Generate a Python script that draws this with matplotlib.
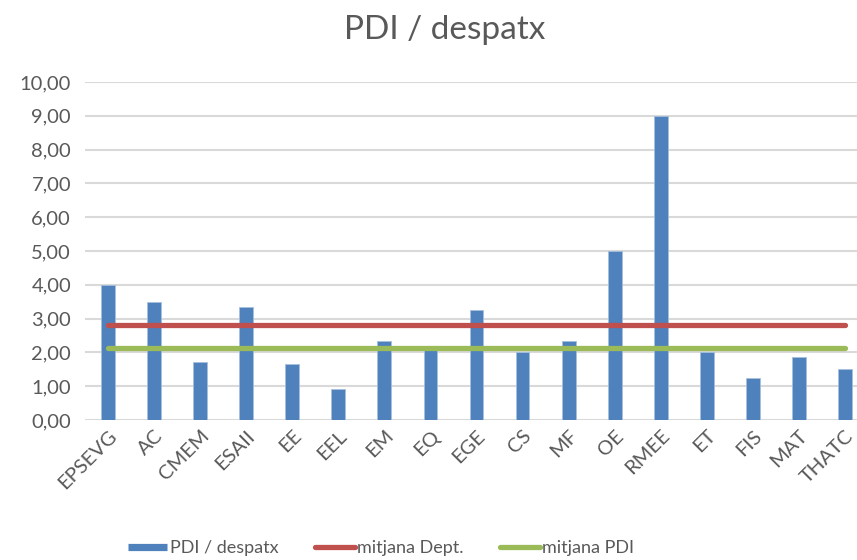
import numpy as np
import matplotlib
matplotlib.use("Agg")
import matplotlib.pyplot as plt
from matplotlib.lines import Line2D

categories = ["EPSEVG", "AC", "CMEM", "ESAII", "EE", "EEL", "EM", "EQ", "EGE",
              "CS", "MF", "OE", "RMEE", "ET", "FIS", "MAT", "THATC"]
pdi_despatx = [4.00, 3.50, 1.72, 3.33, 1.67, 0.91, 2.33, 2.10, 3.25,
               2.00, 2.33, 5.00, 9.00, 2.00, 1.25, 1.86, 1.50]
mitjana_dept = 2.82
mitjana_pdi = 2.14
y_ticks = np.arange(0, 11, 1)

BLUE = "#4F81BD"
RED = "#C0504D"
GREEN = "#9BBB59"
TEXT = "#595959"
GRID = "#D9D9D9"

plt.rcParams["font.family"] = ["Lato", "DejaVu Sans"]

fig = plt.figure(figsize=(8.57, 5.60), dpi=100)
ax = fig.add_axes([85 / 857, 1 - 420 / 560, 783 / 857, 338 / 560])

x = np.arange(len(categories))
ax.bar(x, pdi_despatx, width=0.3, color=BLUE, edgecolor="#A7BFDE",
       linewidth=0.6, zorder=3)
ax.plot(x, [mitjana_dept] * len(x), color=RED, lw=3.8,
        solid_capstyle="round", zorder=4)
ax.plot(x, [mitjana_pdi] * len(x), color=GREEN, lw=3.8,
        solid_capstyle="round", zorder=4)

ax.set_xlim(-0.5, len(categories) - 0.5)
ax.set_ylim(0, 10)
ax.set_yticks(y_ticks)
ax.set_yticklabels([f"{v:.2f}".replace(".", ",") for v in y_ticks])
ax.set_xticks(x)
ax.set_xticklabels(categories, rotation=45, ha="right", va="top",
                   rotation_mode="anchor")
ax.tick_params(axis="both", length=0, labelsize=14.5, labelcolor=TEXT)
ax.tick_params(axis="y", pad=10)
ax.tick_params(axis="x", pad=5)
ax.grid(axis="y", color=GRID, lw=1.5, zorder=0)
ax.set_axisbelow(True)
for s in ax.spines.values():
    s.set_visible(False)

fig.text(445 / 857, 1 - 30 / 560, "PDI / despatx", ha="center", va="center",
         fontsize=24, color=TEXT)

handles = [
    Line2D([], [], color=BLUE, lw=5.2, solid_capstyle="butt"),
    Line2D([], [], color=RED, lw=3.8, solid_capstyle="round"),
    Line2D([], [], color=GREEN, lw=3.8, solid_capstyle="round"),
]
fig.legend(handles, ["PDI / despatx", "mitjana Dept.", "mitjana PDI"],
           loc="center", bbox_to_anchor=(381 / 857, 1 - 548 / 560), ncol=3,
           frameon=False, fontsize=13, labelcolor=TEXT, handlelength=2.2,
           handletextpad=0.15, columnspacing=2.0)

fig.savefig("out.png", dpi=100)
